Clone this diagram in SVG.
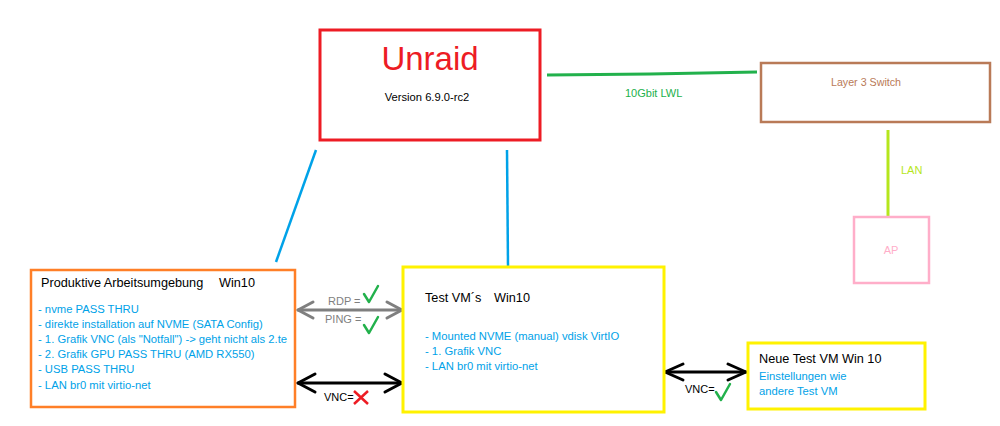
<svg xmlns="http://www.w3.org/2000/svg" width="1000" height="426" viewBox="0 0 1000 426">
<style>
text{font-family:"Liberation Sans",Arial,sans-serif;}
.t{font-size:12.7px;fill:#000;}
.l{font-size:11.25px;fill:#00a2e8;}
.s{font-size:11px;}
.box{fill:none;}
.blue{stroke:#00a2e8;stroke-width:2.5;fill:none;}
.chk{stroke:#22b14c;stroke-width:2.5;fill:none;stroke-linecap:round;stroke-linejoin:round;}
.arr{fill:none;stroke-width:3;stroke-linecap:round;stroke-linejoin:round;}
</style>
<rect width="1000" height="426" fill="#fff"/>
<g id="connectors">
  <line class="blue" x1="316" y1="150" x2="276" y2="262"/>
  <line class="blue" x1="507" y1="150" x2="508" y2="266"/>
  <polyline points="547,75 650,74 757,72" fill="none" stroke="#22b14c" stroke-width="3"/>
  <text class="s" x="625" y="97" fill="#22b14c">10Gbit LWL</text>
  <line x1="888" y1="130" x2="888" y2="217" stroke="#b5e61d" stroke-width="3"/>
  <text class="s" x="901" y="174" fill="#b5e61d">LAN</text>
  <g id="rdp-ping">
    <line class="arr" stroke="#7f7f7f" x1="298" y1="310" x2="402" y2="310"/>
    <polyline class="arr" stroke="#7f7f7f" points="313,302 298,310 313,318"/>
    <polyline class="arr" stroke="#7f7f7f" points="387,302 402,310 387,318"/>
    <text class="s" x="328" y="305" fill="#7f7f7f">RDP =</text>
    <polyline class="chk" points="364,294 369,302 378,286"/>
    <text class="s" x="325" y="323" fill="#7f7f7f">PING =</text>
    <polyline class="chk" points="364,325 369,333 378,317"/>
  </g>
  <g id="vnc-left">
    <line class="arr" stroke="#000" x1="298" y1="383" x2="402" y2="383"/>
    <polyline class="arr" stroke="#000" points="315,374 298,383 315,392"/>
    <polyline class="arr" stroke="#000" points="385,374 402,383 385,392"/>
    <text class="s" x="324" y="401" fill="#000">VNC=</text>
    <path d="M354,391 L368,404 M368,391 L354,404" stroke="#ed1c24" stroke-width="2.5" fill="none"/>
  </g>
  <g id="vnc-right">
    <line class="arr" stroke="#000" x1="665" y1="372" x2="746" y2="372"/>
    <polyline class="arr" stroke="#000" points="683,364 665,372 683,380"/>
    <polyline class="arr" stroke="#000" points="728,364 746,372 728,380"/>
    <text class="s" x="685" y="393" fill="#000">VNC=</text>
    <polyline class="chk" points="716,392 721,400 730,384"/>
  </g>
</g>
<g id="unraid">
  <rect class="box" x="320" y="30" width="220" height="110" stroke="#ed1c24" stroke-width="3"/>
  <text x="430" y="70" text-anchor="middle" font-size="33" fill="#ed1c24">Unraid</text>
  <text x="427" y="101" text-anchor="middle" font-size="11.2" fill="#000">Version 6.9.0-rc2</text>
</g>
<g id="switch">
  <rect class="box" x="761" y="63" width="229" height="59" stroke="#b97a57" stroke-width="2.5"/>
  <text x="866" y="86" text-anchor="middle" font-size="10.7" fill="#b97a57">Layer 3 Switch</text>
</g>
<g id="ap">
  <rect class="box" x="854" y="217" width="75" height="66" stroke="#ffaec9" stroke-width="2.5"/>
  <text x="891" y="254" text-anchor="middle" font-size="11" fill="#ffaec9">AP</text>
</g>
<g id="produktiv">
  <rect class="box" x="31" y="270" width="264" height="137" stroke="#ff7f27" stroke-width="2.5"/>
  <text class="t" x="41" y="287">Produktive Arbeitsumgebung</text>
  <text class="t" x="219" y="287">Win10</text>
  <text class="l" x="38" y="313">- nvme PASS THRU</text>
  <text class="l" x="38" y="328">- direkte installation auf NVME (SATA Config)</text>
  <text class="l" x="38" y="343">- 1. Grafik VNC (als "Notfall") -&gt; geht nicht als 2.te</text>
  <text class="l" x="38" y="358">- 2. Grafik GPU PASS THRU (AMD RX550)</text>
  <text class="l" x="38" y="373">- USB PASS THRU</text>
  <text class="l" x="38" y="389">- LAN br0 mit virtio-net</text>
</g>
<g id="testvm">
  <rect class="box" x="403" y="267" width="261" height="145" stroke="#fff200" stroke-width="3"/>
  <text class="t" x="425" y="302">Test VM´s</text>
  <text class="t" x="494" y="302">Win10</text>
  <text class="l" x="425" y="340">- Mounted NVME (manual) vdisk VirtIO</text>
  <text class="l" x="425" y="355">- 1. Grafik VNC</text>
  <text class="l" x="425" y="370">- LAN br0 mit virtio-net</text>
</g>
<g id="neue">
  <rect class="box" x="748" y="343" width="177" height="66" stroke="#fff200" stroke-width="3"/>
  <text class="t" x="759" y="363">Neue Test VM Win 10</text>
  <text class="l" x="759" y="380">Einstellungen wie</text>
  <text class="l" x="759" y="395">andere Test VM</text>
</g>
</svg>
